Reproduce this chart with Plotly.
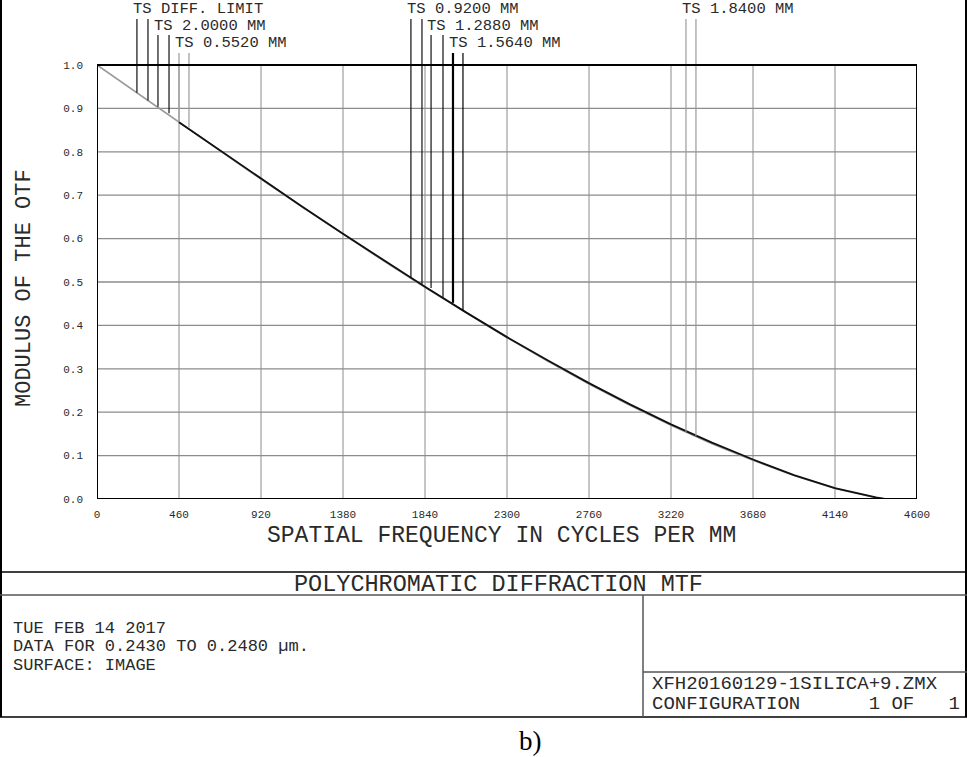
import plotly.graph_objects as go

# ---------------- data ----------------
FREQ = [0, 230, 460, 690, 920, 1150, 1380, 1610, 1840, 2070, 2300, 2530,
        2760, 2990, 3220, 3450, 3680, 3910, 4140, 4370, 4420]
MTF_DIFF_LIMIT = [1.000, 0.934, 0.868, 0.802, 0.737, 0.673, 0.610, 0.548, 0.488,
                  0.429, 0.372, 0.317, 0.265, 0.216, 0.170, 0.127, 0.089, 0.054,
                  0.024, 0.003, 0.000]
MTF_FIELDS = [1.000, 0.934, 0.868, 0.803, 0.738, 0.674, 0.611, 0.549, 0.489,
              0.430, 0.373, 0.319, 0.267, 0.218, 0.172, 0.130, 0.091, 0.055,
              0.025, 0.004, 0.000]

LABELS = ["TS DIFF. LIMIT", "TS 2.0000 MM", "TS 0.5520 MM",
          "TS 0.9200 MM", "TS 1.2880 MM", "TS 1.5640 MM", "TS 1.8400 MM"]
# leader lines: frequency of T and S leaders, and the MTF where each meets the curve
LEADER_T_FREQ = [224, 342, 460, 1761, 1874, 1997, 3304]
LEADER_S_FREQ = [286, 404, 516, 1823, 1941, 2053, 3360]
LEADER_T_MTF = [0.936, 0.904, 0.870, 0.509, 0.486, 0.452, 0.154]
LEADER_S_MTF = [0.918, 0.889, 0.856, 0.495, 0.465, 0.435, 0.145]
LEADER_ROW = [0, 1, 2, 0, 1, 2, 0]
LEADER_COLOR = ["#111111", "#111111", "#9a9a9a", "#111111", "#111111", "#000000", "#9a9a9a"]

X_TICKS = [0, 460, 920, 1380, 1840, 2300, 2760, 3220, 3680, 4140, 4600]
Y_TICKS = [0.0, 0.1, 0.2, 0.3, 0.4, 0.5, 0.6, 0.7, 0.8, 0.9, 1.0]

TITLE = "POLYCHROMATIC DIFFRACTION MTF"
INFO_LINES = ["TUE FEB 14 2017", "DATA FOR 0.2430 TO 0.2480 µm.", "SURFACE: IMAGE"]
FILE_LINES = ["XFH20160129-1SILICA+9.ZMX",
              "CONFIGURATION" + "\u00a0" * 6 + "1\u00a0OF" + "\u00a0" * 3 + "1"]

# ---------------- layout geometry (pixels) ----------------
W, H = 967, 757
L, R, T, B = 97, 50, 4, 258
PW, PH = W - L - R, H - T - B
PX_PER_UNIT = 434.0
Y_TOP = PH / PX_PER_UNIT
FONT = "Liberation Mono"
TXT = "#2a2a2a"


def px(xp):
    return (xp - L) / PW


def py(yp):
    return (H - B - yp) / PH


ROW_TEXT_Y = [(499 - 9) / PX_PER_UNIT, (499 - 26) / PX_PER_UNIT, (499 - 43) / PX_PER_UNIT]
ROW_LINE_TOP = [(499 - 19) / PX_PER_UNIT, (499 - 35) / PX_PER_UNIT, (499 - 53) / PX_PER_UNIT]

fig = go.Figure()

# grid and frame
shapes = []
for xv in X_TICKS[1:-1]:
    shapes.append(dict(type="line", xref="x", yref="y", x0=xv, x1=xv, y0=0, y1=1,
                       line=dict(color="#8c8c8c", width=1), layer="below"))
for yv in Y_TICKS[1:-1]:
    shapes.append(dict(type="line", xref="x", yref="y", x0=0, x1=4600, y0=yv, y1=yv,
                       line=dict(color="#8c8c8c", width=1.3), layer="below"))
shapes.append(dict(type="rect", xref="x", yref="y", x0=0, x1=4600, y0=0, y1=1,
                   line=dict(color="black", width=2)))

# curves
fig.add_trace(go.Scatter(x=FREQ, y=MTF_DIFF_LIMIT, mode="lines",
                         line=dict(color="#9a9a9a", width=1.6), hoverinfo="skip",
                         showlegend=False))
fig.add_trace(go.Scatter(x=FREQ[2:], y=MTF_FIELDS[2:], mode="lines",
                         line=dict(color="#111111", width=1.8), hoverinfo="skip",
                         showlegend=False))

# leader lines and labels
annotations = []
for i, lab in enumerate(LABELS):
    r = LEADER_ROW[i]
    col = LEADER_COLOR[i]
    for j, (f, m) in enumerate(((LEADER_T_FREQ[i], LEADER_T_MTF[i]),
                                (LEADER_S_FREQ[i], LEADER_S_MTF[i]))):
        wid = 2.2 if (i == 5 and j == 0) else 1.2
        fig.add_trace(go.Scatter(x=[f, f], y=[ROW_LINE_TOP[r], m], mode="lines",
                                 line=dict(color=col, width=wid), hoverinfo="skip",
                                 showlegend=False))
    annotations.append(dict(x=LEADER_T_FREQ[i], y=ROW_TEXT_Y[r], xref="x", yref="y",
                            text=lab, showarrow=False, xanchor="left", yanchor="middle",
                            xshift=-6, font=dict(family=FONT, size=15.5, color=TXT)))

# axis titles
annotations.append(dict(x=px(501), y=py(536), xref="paper", yref="paper",
                        text="SPATIAL FREQUENCY IN CYCLES PER MM", showarrow=False,
                        xanchor="center", yanchor="middle",
                        font=dict(family=FONT, size=23, color=TXT)))
annotations.append(dict(x=px(25), y=py(288), xref="paper", yref="paper",
                        text="MODULUS OF THE OTF", showarrow=False, textangle=-90,
                        xanchor="center", yanchor="middle",
                        font=dict(family=FONT, size=22, color=TXT)))


# bottom panel frame
def pline(x0, y0, x1, y1, color="black", width=1.5):
    shapes.append(dict(type="line", xref="paper", yref="paper",
                       x0=px(x0), x1=px(x1), y0=py(y0), y1=py(y1),
                       line=dict(color=color, width=width)))


pline(1, 0, 1, 717, width=2)
pline(966, 0, 966, 717, width=2)
pline(0, 572, 967, 572)
pline(0, 595, 967, 595, color="#555555")
pline(0, 717, 967, 717)
pline(643, 595, 643, 717, color="#555555")
pline(643, 672, 967, 672, color="#555555")

annotations.append(dict(x=px(498), y=py(584), xref="paper", yref="paper", text=TITLE,
                        showarrow=False, xanchor="center", yanchor="middle",
                        font=dict(family=FONT, size=23.5, color=TXT)))
for k, line in enumerate(INFO_LINES):
    annotations.append(dict(x=px(11), y=py(628 + 18.5 * k), xref="paper", yref="paper",
                            text=line, showarrow=False, xanchor="left", yanchor="middle",
                            font=dict(family=FONT, size=17, color=TXT)))
for k, line in enumerate(FILE_LINES):
    annotations.append(dict(x=px(650), y=py(684 + 20 * k), xref="paper", yref="paper",
                            text=line, showarrow=False, xanchor="left", yanchor="middle",
                            font=dict(family=FONT, size=19, color=TXT)))
annotations.append(dict(x=px(530), y=py(741), xref="paper", yref="paper", text="b)",
                        showarrow=False, xanchor="center", yanchor="middle",
                        font=dict(family="Liberation Serif", size=27, color="black")))

fig.update_layout(
    width=W, height=H,
    margin=dict(l=L, r=R, t=T, b=B, pad=0),
    paper_bgcolor="white", plot_bgcolor="white",
    shapes=shapes, annotations=annotations, showlegend=False,
    xaxis=dict(range=[0, 4600], tickvals=X_TICKS, ticktext=[str(v) for v in X_TICKS],
               showgrid=False, zeroline=False, showline=False, ticks="",
               ticklabelstandoff=7,
               tickfont=dict(family=FONT, size=11, color=TXT), fixedrange=True),
    yaxis=dict(range=[0, Y_TOP], tickvals=Y_TICKS, ticktext=[f"{v:.1f}" for v in Y_TICKS],
               showgrid=False, zeroline=False, showline=False, ticks="",
               ticklabelstandoff=13,
               tickfont=dict(family=FONT, size=11, color=TXT), fixedrange=True),
)

fig.write_html(
    "out.html",
    config={"displayModeBar": False},
    post_script="document.body.style.margin='0px';document.body.style.overflow='hidden';",
)
